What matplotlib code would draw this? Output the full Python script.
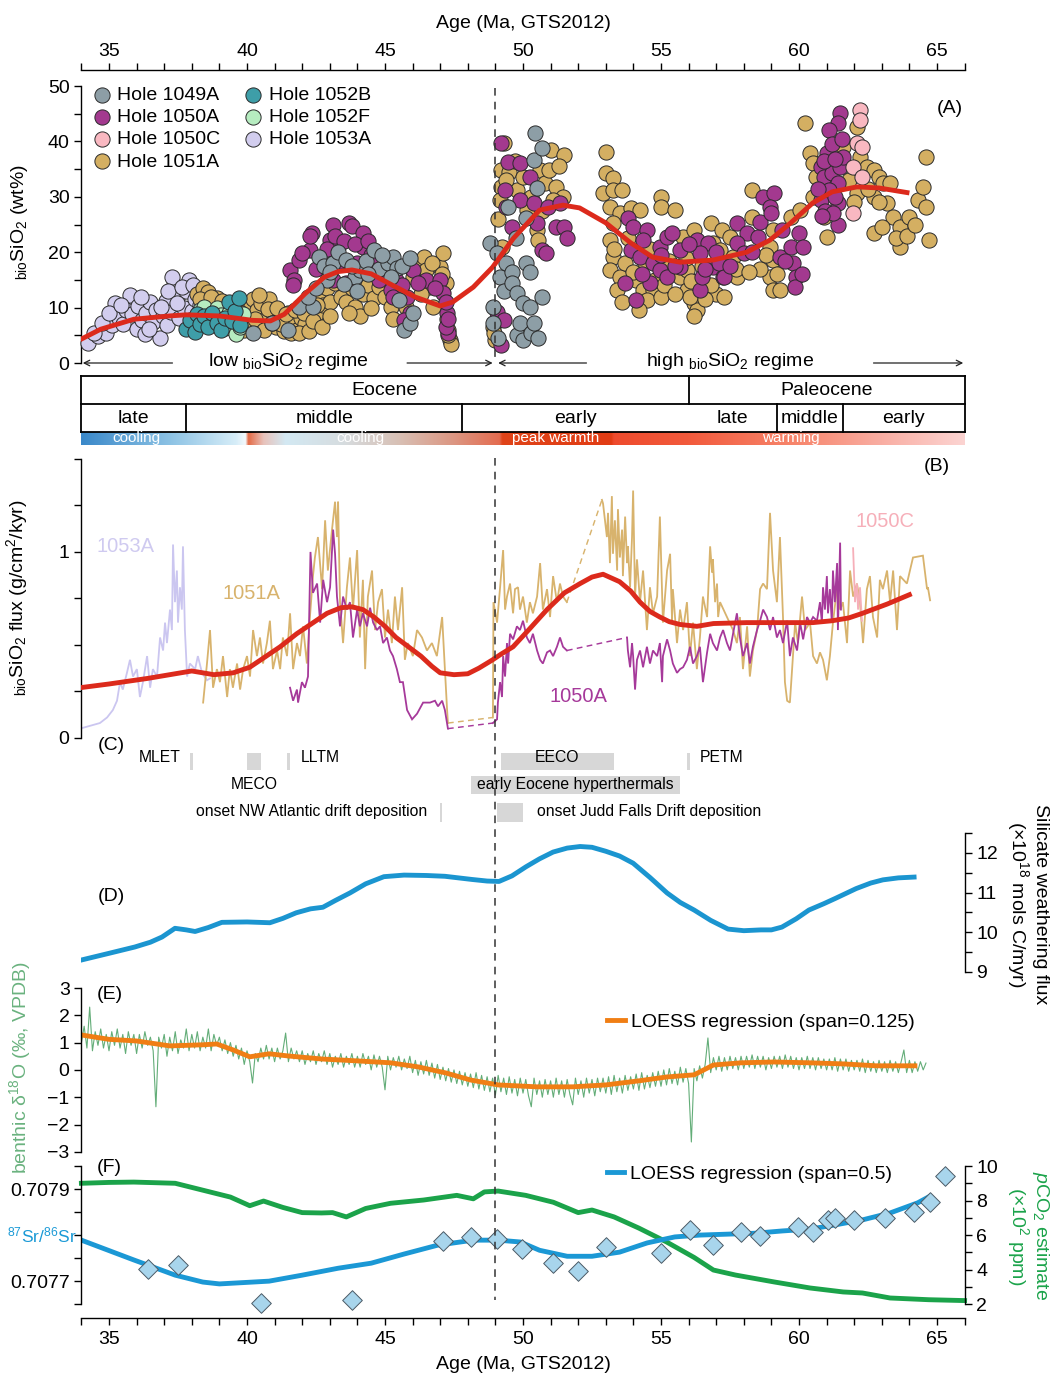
import numpy as np
import matplotlib.pyplot as plt
import matplotlib.transforms as mtransforms
from matplotlib.lines import Line2D
from matplotlib.patches import Rectangle
from matplotlib.colors import to_rgb
from matplotlib.ticker import MultipleLocator, FixedLocator

plt.rcParams['font.family'] = ['Liberation Sans', 'DejaVu Sans']
plt.rcParams['mathtext.fontset'] = 'custom'
plt.rcParams['mathtext.rm'] = 'Liberation Sans'
plt.rcParams['mathtext.it'] = 'Liberation Sans:italic'
plt.rcParams['mathtext.default'] = 'regular'
plt.rcParams['font.size'] = 14
plt.rcParams['xtick.labelsize'] = 14
plt.rcParams['ytick.labelsize'] = 14
plt.rcParams['axes.linewidth'] = 1.0
for k in ['xtick.major.width', 'ytick.major.width', 'xtick.minor.width', 'ytick.minor.width']:
    plt.rcParams[k] = 1.0
TICK = 5

# ---------------- (A) biogenic silica wt% ----------------
a1053A_age = [34.25, 34.6, 34.9, 35.1, 35.2, 35.35, 35.5, 35.6, 35.75, 35.85, 36.0, 36.05, 36.2, 36.3,
              36.35, 36.5, 36.6, 36.7, 36.85, 36.95, 37.05, 37.1, 37.25, 37.35, 37.3, 37.5, 37.55, 37.7,
              37.8, 37.9, 38.0, 38.1, 38.2, 38.3, 38.45, 38.55,
              34.45, 34.75, 35.0, 35.45, 36.15, 36.45, 36.9, 37.15, 37.45, 37.65, 38.05, 38.35]
a1053A_val = [3.6, 4.8, 5.5, 6.8, 10.8, 8.2, 7.0, 9.5, 12.3, 8.8, 6.2, 10.3, 7.8, 5.2,
              9.0, 11.0, 7.4, 9.6, 4.6, 8.5, 11.2, 6.8, 9.2, 14.0, 15.5, 12.3, 8.2, 10.0,
              13.0, 15.0, 9.3, 11.5, 7.5, 10.5, 12.2, 8.0,
              5.5, 7.2, 9.0, 10.5, 12.0, 6.2, 10.2, 13.0, 10.8, 13.8, 14.0, 8.8]
a1052B_age = [37.8, 37.95, 38.1, 38.2, 38.3, 38.45, 38.6, 38.75, 38.9, 39.05, 39.2, 39.35, 39.45, 39.55, 39.7, 39.75]
a1052B_val = [6.2, 7.8, 5.6, 8.8, 7.0, 8.5, 6.5, 9.0, 7.3, 6.0, 8.2, 11.0, 7.5, 9.3, 11.8, 6.8]
a1052F_age = [38.3, 38.45, 38.6, 38.75, 38.9, 39.05, 39.2, 39.35, 39.5, 39.6, 39.75, 39.85]
a1052F_val = [9.5, 10.2, 8.0, 7.0, 10.0, 8.6, 6.3, 9.0, 7.8, 5.2, 6.5, 8.8]
a1049A_age = [40.2, 40.9, 41.5, 41.9, 42.4, 42.6, 42.8, 43.1, 43.3, 43.6, 43.9, 44.1, 44.3, 44.6, 44.8,
              45.1, 45.3, 45.45, 45.5, 45.7, 45.9, 43.5, 44.0, 42.9, 46.0,
              42.2, 42.5, 43.0, 43.8, 44.4, 44.9, 45.2, 45.6, 45.9,
              48.8, 48.9, 48.9, 49.05, 49.1, 49.15, 49.3, 49.4, 49.45, 49.6, 49.6, 49.75, 49.8, 49.8,
              49.9, 50.0, 50.0, 50.1, 50.1, 50.25, 50.25, 50.3, 50.4, 50.4, 50.45, 50.5, 50.7, 50.7, 50.55]
a1049A_val = [5.4, 7.2, 6.0, 10.1, 10.1, 19.1, 17.5, 18.0, 20.0, 18.6, 15.5, 16.8, 18.5, 20.4, 17.0,
              18.0, 19.1, 17.2, 11.4, 6.0, 7.2, 14.2, 13.0, 15.0, 9.0,
              12.0, 13.5, 16.5, 17.5, 16.0, 19.5, 15.5, 17.5, 19.0,
              21.7, 10.1, 7.2, 19.9, 4.5, 15.5, 13.0, 18.0, 28.2, 16.4, 14.4, 22.5, 12.6, 5.0,
              7.2, 10.8, 4.2, 26.2, 18.0, 16.4, 10.1, 5.5, 7.2, 36.6, 41.5, 31.6, 38.8, 11.9, 4.5]
a1050A_age = [41.56, 41.7, 41.9, 42.3, 42.35, 42.3, 43.0, 43.1, 43.3, 43.7, 43.8, 44.2, 44.2, 44.3, 43.6,
              43.1, 44.8, 45.2, 45.4, 45.8, 45.9, 45.7, 46.0, 46.5, 47.0, 47.1, 47.25, 47.3, 47.2,
              44.5, 43.4, 42.7,
              41.65, 42.0, 42.5, 42.9, 43.2, 43.5, 43.9, 44.0, 44.4, 44.7, 45.0, 45.3, 45.6, 46.2,
              46.8, 47.2, 47.3,
              49.2, 49.45, 49.9, 50.25, 49.35, 49.9, 49.4, 50.4, 50.9, 51.35, 49.6, 50.5, 51.2, 51.5,
              51.6, 50.7, 50.85, 49.05, 49.3, 49.2,
              53.8, 54.0, 54.5, 54.35, 53.9, 54.25, 54.7, 54.95, 55.2, 55.4, 55.7, 54.95, 54.1, 55.2,
              55.7, 56.3, 56.7, 56.4, 56.9, 57.25, 57.1, 57.75, 58.1, 57.75, 58.0, 58.5, 58.7, 59.1,
              58.95, 59.4, 59.3, 59.7, 60.0, 60.15, 59.8, 59.9, 59.85, 56.4, 57.3, 56.5,
              54.6, 55.0, 55.5, 56.0, 56.6, 57.0, 57.5, 58.3, 58.6, 59.0, 59.5, 60.1, 53.7, 54.3,
              61.5, 61.4, 61.1, 61.0, 60.8, 60.9, 61.2, 61.5, 61.4, 61.0, 61.4, 60.8, 61.1, 61.4,
              61.6, 61.2, 60.95, 61.3, 60.7, 60.9, 61.3, 61.55, 61.25, 60.85]
a1050A_val = [16.8, 15.0, 18.6, 20.4, 23.4, 22.9, 22.2, 24.9, 21.0, 25.2, 24.7, 23.4, 21.0, 16.8, 14.4,
              15.0, 15.0, 13.2, 15.0, 11.9, 9.0, 7.8, 16.8, 15.0, 15.0, 12.6, 9.0, 5.4, 6.5,
              19.5, 18.5, 19.0,
              14.0, 19.8, 17.0, 20.5, 23.0, 22.0, 21.5, 18.0, 22.0, 18.5, 16.5, 12.0, 14.0, 14.5,
              13.5, 11.0, 8.0,
              39.7, 36.3, 36.1, 33.6, 31.2, 29.4, 28.2, 28.9, 28.2, 28.9, 24.5, 25.3, 24.5, 24.5,
              22.6, 20.4, 19.9, 9.2, 7.8, 3.3,
              26.2, 24.5, 24.0, 22.2, 20.4, 19.1, 18.0, 21.0, 22.7, 23.4, 20.4, 16.8, 11.4, 15.5,
              17.3, 22.2, 21.7, 19.9, 17.3, 15.5, 18.0, 25.3, 23.4, 21.7, 19.9, 22.7, 30.0, 30.7,
              28.2, 24.0, 19.1, 21.0, 23.4, 21.0, 18.0, 15.5, 13.7, 13.2, 15.5, 15.5,
              14.5, 19.5, 17.5, 21.5, 17.0, 20.0, 17.5, 20.0, 25.5, 27.0, 18.5, 16.0, 14.5, 16.0,
              45.1, 43.3, 42.1, 37.9, 35.4, 33.6, 34.3, 35.4, 32.5, 30.7, 28.9, 29.4, 31.2, 24.9,
              37.2, 39.5, 27.5, 30.0, 31.5, 36.5, 36.8, 40.5, 27.0, 26.5]
a1050C_age = [62.2, 62.2, 62.1, 62.3, 61.95, 62.3, 61.95]
a1050C_val = [45.7, 43.9, 39.7, 39.0, 35.4, 33.6, 27.1]
a1051A_age = [38.2, 38.4, 38.5, 38.6, 38.75, 38.9, 39.0, 39.2, 39.35, 39.5, 39.7, 39.9, 40.0, 40.2,
              40.35, 40.5, 40.65, 40.8, 40.95, 41.05, 41.2, 41.35, 41.5, 41.65, 41.8, 41.95, 42.1,
              42.2, 42.35, 42.5, 42.6, 42.75, 42.9, 43.0, 43.2, 43.4, 43.6, 43.8, 43.9, 44.1, 44.2,
              44.4, 44.6, 44.8, 45.0, 45.2, 45.4, 45.6, 45.75, 46.0, 46.15, 46.4, 46.5, 46.6, 46.75,
              46.9, 47.0, 47.1, 47.2, 47.25, 47.3, 47.35, 47.4, 47.3,
              38.3, 38.55, 38.7, 38.85, 39.1, 39.3, 39.6, 39.8, 40.1, 40.3, 40.45, 40.6, 40.75, 40.9,
              41.1, 41.25, 41.4, 41.6, 41.75, 41.9, 42.05, 42.25, 42.4, 42.55, 42.7,
              43.0, 43.7, 44.5, 45.3, 46.3, 46.7, 47.05,
              48.9, 49.0, 49.05, 48.95, 49.2, 49.2, 49.3, 49.5, 49.8, 50.15, 50.5, 50.55, 50.6, 50.8,
              50.95, 51.0, 51.2, 51.45, 51.5, 49.15, 49.1, 49.25,
              49.4, 49.7, 50.0, 50.3, 50.7, 51.1, 51.3,
              53.0, 53.0, 53.25, 52.9, 53.25, 53.6, 53.15, 53.5, 53.9, 54.25, 55.0, 55.0, 55.5, 53.25,
              53.15, 53.25, 53.15, 53.5, 53.4, 54.1, 54.35, 54.7, 54.5, 55.0, 55.7, 55.95, 56.2, 56.3,
              56.05, 55.95, 55.8, 56.2, 56.8, 57.2, 56.9, 57.5, 57.15, 57.75, 57.6, 58.3, 58.3, 58.95,
              59.05, 59.3, 59.05, 58.95, 59.05, 59.7, 60.05, 53.8, 54.6, 55.3, 56.5, 57.0, 58.6,
              53.3, 53.7, 54.0, 54.4, 54.8, 55.1, 55.5, 55.9, 56.1, 56.6, 56.8, 57.3, 57.7, 58.2,
              58.8, 59.2, 53.6, 54.2, 56.2,
              60.2, 60.4, 60.5, 60.5, 60.9, 61.0, 61.6, 62.1, 62.2, 62.45, 62.7, 62.9, 63.05, 63.3,
              62.1, 62.7, 63.2, 63.4, 63.65, 64.0, 62.7, 63.65, 64.3, 64.6, 64.5, 64.6, 64.7,
              60.6, 61.8, 62.0, 62.5, 62.9, 63.0, 63.5, 63.9, 64.2]
a1051A_val = [12.5, 13.5, 11.0, 12.8, 10.2, 11.8, 9.2, 10.5, 7.5, 6.5, 8.5, 6.0, 10.0, 11.5,
              9.5, 10.8, 8.0, 11.5, 9.0, 6.5, 8.0, 5.8, 9.0, 7.0, 6.0, 8.2, 7.0,
              9.8, 11.5, 8.8, 12.8, 10.5, 13.5, 11.0, 14.5, 12.0, 11.0, 13.5, 10.2, 8.5, 12.5,
              14.0, 11.8, 13.8, 12.0, 10.2, 14.5, 12.5, 10.2, 15.5, 17.3, 19.1, 16.8, 13.8, 10.1,
              14.0, 17.3, 19.9, 14.5, 8.0, 6.0, 4.2, 3.5, 5.0,
              11.5, 9.8, 12.0, 8.5, 11.2, 9.3, 10.3, 9.0, 7.2, 8.0, 12.3, 6.0, 9.8, 7.2,
              10.0, 7.0, 8.8, 5.5, 9.5, 5.5, 9.0, 5.8, 7.5, 10.5, 6.5,
              8.5, 9.0, 10.0, 8.0, 12.5, 18.0, 16.0,
              6.5, 4.2, 7.8, 5.5, 31.8, 34.8, 39.7, 34.5, 31.2, 27.6, 24.0, 22.2, 34.8, 32.5,
              34.8, 38.4, 31.8, 30.0, 37.5, 29.5, 26.0, 21.0,
              33.0, 36.5, 33.5, 30.0, 27.5, 29.5, 35.5,
              38.1, 34.3, 33.4, 30.7, 31.2, 31.2, 28.2, 27.1, 28.0, 27.6, 30.0, 28.2, 27.6, 25.3,
              22.2, 19.1, 16.8, 15.5, 13.2, 15.0, 13.2, 13.2, 11.4, 11.9, 15.5, 13.2, 10.8, 9.6,
              11.9, 16.8, 22.7, 24.0, 25.3, 24.0, 21.7, 22.7, 20.4, 15.5, 19.1, 26.4, 31.2, 15.5,
              13.2, 13.2, 18.6, 21.0, 24.0, 26.4, 27.6, 22.5, 20.5, 18.5, 17.5, 12.5, 17.0,
              20.5, 18.0, 16.5, 18.5, 15.0, 14.0, 12.5, 19.0, 14.8, 11.5, 14.0, 12.0, 17.0, 16.5,
              19.5, 16.0, 11.0, 9.5, 8.5,
              43.3, 37.9, 36.1, 30.0, 26.4, 22.7, 39.0, 42.6, 37.2, 35.4, 34.8, 33.6, 32.5, 32.5,
              30.7, 30.0, 28.9, 26.4, 24.5, 26.4, 23.4, 21.0, 29.4, 28.2, 31.8, 37.2, 22.2,
              33.5, 33.0, 29.0, 31.5, 29.0, 24.5, 22.5, 23.0, 25.0]
sio2_fit_age = [33.95, 34.7, 35.9, 37.2, 37.8, 39.0, 40.2, 40.85, 41.35, 41.7, 42.1, 42.8, 43.3, 43.8,
                44.5, 45.4, 46.1, 47.0, 47.45, 48.2, 48.9, 49.65, 50.6, 51.45, 52.05, 53.0, 53.9, 54.7,
                55.7, 56.9, 58.1, 58.95, 59.7, 60.5, 61.2, 62.1, 62.9, 64.0]
sio2_fit = [4.2, 6.1, 7.9, 8.5, 8.7, 8.5, 7.7, 7.6, 8.8, 10.5, 12.5, 15.5, 16.5, 16.8,
            16.1, 13.7, 11.9, 10.3, 11.0, 13.7, 17.3, 22.5, 27.6, 28.5, 28.0, 25.3, 21.7, 19.1,
            18.2, 18.6, 20.0, 22.2, 25.3, 28.9, 30.9, 31.8, 31.6, 30.7]

# ---------------- (B) biogenic silica flux ----------------
f1053A_age = [33.95, 34.67, 34.93, 35.14, 35.29, 35.40, 35.50, 35.65, 35.76, 35.87, 36.01, 36.12, 36.23,
              36.38, 36.49, 36.59, 36.74, 36.85, 36.96, 37.03, 37.10, 37.21, 37.28, 37.32, 37.39, 37.46,
              37.50, 37.57, 37.64, 37.68, 37.75, 37.83, 37.93, 38.12, 38.22, 38.37, 38.55, 38.66]
f1053A_val = [0.05, 0.08, 0.11, 0.15, 0.20, 0.30, 0.26, 0.35, 0.42, 0.33, 0.37, 0.22, 0.30,
              0.44, 0.27, 0.37, 0.33, 0.54, 0.47, 0.62, 0.51, 0.69, 0.58, 1.04, 0.73, 0.90,
              0.62, 0.81, 0.69, 1.03, 0.58, 0.33, 0.40, 0.37, 0.44, 0.35, 0.31, 0.32]
f1051A_age = [38.41, 38.55, 38.66, 38.77, 38.91, 39.02, 39.13, 39.28, 39.38, 39.49, 39.64, 39.75, 39.86,
              40.00, 40.11, 40.22, 40.36, 40.47, 40.58, 40.72, 40.83, 40.94, 41.09, 41.20, 41.30, 41.45,
              41.56, 41.67, 41.81, 41.92, 42.03, 42.17, 42.28, 42.39, 42.46, 42.57, 42.72, 42.83, 42.93,
              43.08, 43.19, 43.26, 43.30, 43.37, 43.48, 43.62, 43.73, 43.84, 43.99, 44.09, 44.20, 44.28,
              44.38, 44.53, 44.64, 44.75, 44.89, 45.00, 45.11, 45.25, 45.36, 45.47, 45.62, 45.72, 45.83,
              46.01, 46.16, 46.34, 46.52, 46.70, 46.88, 47.07, 47.17, 47.25, 47.28,
              48.91, 48.93, 49.06, 49.17, 49.28, 49.35, 49.42, 49.53, 49.64, 49.71, 49.82, 49.89, 50.00,
              50.14, 50.25, 50.36, 50.51, 50.62, 50.72, 50.87, 50.98, 51.09, 51.23, 51.34, 51.45, 51.59,
              52.86, 52.90, 53.04, 53.08, 53.15, 53.22, 53.26, 53.33, 53.41, 53.44, 53.51, 53.59, 53.62,
              53.70, 53.77, 53.80, 53.88, 53.95, 53.99, 54.06, 54.13, 54.24, 54.35, 54.49, 54.60, 54.71,
              54.86, 54.96, 55.07, 55.22, 55.33, 55.40, 55.43, 55.58, 55.69, 55.80, 55.94, 56.05, 56.16,
              56.30, 56.41, 56.52, 56.67, 56.78, 56.85, 56.88, 56.96, 57.03, 57.07, 57.14, 57.39, 57.61,
              57.75, 57.86, 57.97, 58.12, 58.22, 58.33, 58.48, 58.59, 58.70, 58.84, 58.95, 59.06, 59.20,
              59.31, 59.42, 59.49, 59.57, 59.67, 59.75, 59.86, 59.96, 60.11, 60.22, 60.40, 60.51, 60.65,
              60.76, 60.87, 61.01, 61.12, 61.23, 61.38, 61.49, 61.59, 61.74, 61.85, 61.96, 62.10, 62.21,
              62.32, 62.46, 62.57, 62.68, 62.83, 62.93, 63.04, 63.19, 63.30, 63.41, 63.55, 63.66, 63.91,
              64.13, 64.49, 64.64, 64.67, 64.75]
f1051A_val = [0.19, 0.40, 0.58, 0.27, 0.37, 0.30, 0.44, 0.22, 0.37, 0.27, 0.40, 0.26, 0.37,
              0.44, 0.33, 0.58, 0.44, 0.54, 0.40, 0.51, 0.63, 0.37, 0.47, 0.37, 0.54, 0.44,
              0.67, 0.37, 0.51, 0.44, 0.60, 0.40, 0.65, 0.87, 0.97, 1.08, 0.80, 1.17, 0.90,
              1.12, 1.27, 1.08, 1.27, 0.73, 0.51, 0.81, 0.97, 0.69, 1.01, 0.54, 0.85, 0.37,
              0.76, 0.90, 0.58, 0.73, 0.80, 0.54, 0.69, 0.51, 0.76, 0.58, 0.81, 0.42, 0.51,
              0.44, 0.58, 0.54, 0.47, 0.51, 0.44, 0.65, 0.37, 0.15, 0.08,
              0.11, 0.73, 0.62, 0.81, 1.01, 0.69, 0.76, 0.83, 0.67, 0.80, 0.81, 0.69, 0.76,
              0.62, 0.73, 0.67, 0.76, 0.94, 0.69, 0.80, 0.65, 0.87, 0.73, 0.83, 0.76, 0.73,
              1.28, 1.26, 1.08, 1.21, 0.94, 1.30, 0.99, 1.17, 0.90, 1.23, 0.97, 1.12, 0.87,
              1.19, 0.94, 1.03, 0.81, 1.08, 1.33, 0.76, 0.96, 0.73, 0.90, 0.58, 0.81, 0.67,
              0.76, 1.19, 0.62, 0.90, 0.99, 0.63, 0.80, 0.51, 0.69, 0.58, 0.73, 0.44, 0.62,
              0.37, 0.54, 0.76, 0.65, 1.03, 0.89, 0.96, 0.73, 0.83, 0.65, 0.73, 0.65, 0.58,
              0.51, 0.65, 0.37, 0.60, 0.33, 0.47, 0.58, 0.80, 0.83, 0.80, 1.21, 0.90, 0.73,
              1.08, 0.65, 0.30, 0.20, 0.19, 0.37, 0.62, 0.51, 0.76, 0.58, 0.62, 0.44, 0.40,
              0.46, 0.42, 0.31, 0.44, 0.62, 0.81, 0.69, 0.73, 0.51, 0.90, 0.76, 0.83, 0.73,
              0.51, 0.80, 0.87, 0.65, 0.54, 0.85, 0.80, 0.90, 0.73, 0.90, 0.58, 0.87, 0.83,
              0.97, 0.98, 0.80, 0.81, 0.74]
f1050A_age = [41.56, 41.67, 41.81, 41.85, 41.99, 42.10, 42.21, 42.30, 42.39, 42.54, 42.65, 42.76, 42.90,
              43.01, 43.12, 43.19, 43.26, 43.37, 43.48, 43.62, 43.73, 43.84, 43.99, 44.09, 44.20, 44.35,
              44.46, 44.57, 44.71, 44.82, 44.93, 45.07, 45.18, 45.29, 45.43, 45.54, 45.65, 45.80, 45.98,
              46.16, 46.38, 46.63, 46.81, 46.92, 47.07, 47.17, 47.28,
              48.91, 49.06, 49.09, 49.17, 49.24, 49.28, 49.35, 49.42, 49.46, 49.53, 49.64, 49.78, 49.89,
              50.00, 50.14, 50.25, 50.36, 50.51, 50.62, 50.72, 50.87, 50.98, 51.09, 51.23, 51.34, 51.45,
              51.59,
              53.77, 53.80, 53.88, 53.95, 53.99, 54.06, 54.13, 54.24, 54.35, 54.49, 54.60, 54.71, 54.86,
              54.96, 55.04, 55.07, 55.22, 55.33, 55.43, 55.58, 55.69, 55.80, 55.94, 56.05, 56.16, 56.30,
              56.41, 56.52, 56.67, 56.78, 56.88, 57.03, 57.14, 57.25, 57.39, 57.50, 57.61, 57.75, 57.86,
              57.97, 58.12, 58.22, 58.33, 58.48, 58.59, 58.70, 58.84, 58.95, 59.06, 59.20, 59.31, 59.42,
              59.57, 59.67, 59.78, 59.93, 60.04, 60.15, 60.29, 60.40, 60.51, 60.65, 60.76, 60.83, 60.87,
              60.94, 61.01, 61.05, 61.12, 61.19, 61.23, 61.30, 61.38, 61.41, 61.49, 61.52]
f1050A_val = [0.27, 0.20, 0.26, 0.19, 0.30, 0.27, 0.33, 1.00, 0.78, 0.83, 0.62, 0.85, 0.73,
              0.81, 1.12, 0.99, 0.76, 0.60, 0.76, 0.69, 0.73, 0.54, 0.69, 0.60, 0.67, 0.60,
              0.70, 0.62, 0.58, 0.60, 0.51, 0.54, 0.47, 0.44, 0.37, 0.30, 0.30, 0.15, 0.10,
              0.13, 0.19, 0.19, 0.20, 0.17, 0.20, 0.15, 0.05,
              0.08, 0.10, 0.19, 0.30, 0.22, 0.44, 0.33, 0.51, 0.40, 0.56, 0.53, 0.60, 0.58,
              0.63, 0.54, 0.51, 0.56, 0.47, 0.42, 0.40, 0.46, 0.47, 0.44, 0.49, 0.54, 0.49,
              0.47,
              0.54, 0.47, 0.38, 0.51, 0.44, 0.26, 0.42, 0.47, 0.38, 0.49, 0.40, 0.47, 0.44,
              0.51, 0.30, 0.44, 0.53, 0.47, 0.40, 0.35, 0.37, 0.38, 0.42, 0.49, 0.40, 0.44,
              0.49, 0.30, 0.46, 0.56, 0.51, 0.47, 0.54, 0.58, 0.51, 0.47, 0.56, 0.67, 0.54,
              0.44, 0.51, 0.40, 0.49, 0.58, 0.63, 0.69, 0.65, 0.58, 0.65, 0.54, 0.58, 0.51,
              0.63, 0.44, 0.54, 0.47, 0.62, 0.53, 0.65, 0.62, 0.65, 0.63, 0.73, 0.62, 0.81,
              0.69, 0.87, 0.67, 0.80, 0.62, 0.90, 0.73, 0.94, 0.58, 1.05, 0.69]
f1050C_age = [61.96, 62.03, 62.10, 62.14, 62.21, 62.28]
f1050C_val = [1.02, 0.73, 0.83, 0.69, 0.81, 0.63]
flux_fit_age = [33.95, 35.0, 36.4, 38.0, 38.8, 39.5, 40.1, 40.6, 41.2, 41.8, 42.4, 42.9, 43.4, 43.8,
                44.2, 44.6, 45.0, 45.4, 45.85, 46.3, 46.7, 47.0, 47.5, 48.0, 48.4, 48.9, 49.2, 49.64,
                50.2, 50.87, 51.5, 52.07, 52.5, 52.9, 53.5, 53.9, 54.24, 54.6, 54.96, 55.3, 55.69, 56.3,
                56.9, 58.1, 59.3, 60.5, 61.2, 61.8, 62.3, 63.2, 64.0]
flux_fit = [0.27, 0.29, 0.32, 0.36, 0.34, 0.35, 0.38, 0.43, 0.49, 0.56, 0.62, 0.67, 0.70, 0.705,
            0.69, 0.65, 0.60, 0.54, 0.49, 0.44, 0.385, 0.35, 0.34, 0.345, 0.375, 0.42, 0.45, 0.49,
            0.58, 0.69, 0.78, 0.83, 0.865, 0.88, 0.84, 0.79, 0.73, 0.68, 0.65, 0.625, 0.61, 0.60,
            0.615, 0.62, 0.62, 0.62, 0.63, 0.645, 0.67, 0.72, 0.77]

# ---------------- (C) events ----------------
event_names = ['MLET', 'MECO', 'LLTM', 'EECO', 'PETM', 'early Eocene hyperthermals',
               'onset NW Atlantic drift deposition', 'onset Judd Falls Drift deposition']
event_start = [37.95, 40.0, 41.45, 49.2, 55.95, 48.1, 46.98, 49.05]
event_end = [38.05, 40.5, 41.55, 53.3, 56.05, 55.7, 47.08, 50.0]

# ---------------- (D) silicate weathering flux ----------------
weath_age = [33.99, 35.0, 35.94, 36.5, 36.92, 37.39, 37.8, 38.12, 38.6, 39.09, 40.0, 40.83, 41.3, 41.78,
             42.3, 42.75, 43.2, 43.73, 44.3, 44.96, 45.69, 46.5, 47.17, 48.15, 48.7, 49.13, 49.6, 50.11,
             50.6, 51.09, 51.6, 52.07, 52.5, 53.0, 53.5, 53.99, 54.6, 55.22, 55.7, 56.2, 56.8, 57.43,
             58.0, 58.62, 59.0, 59.38, 59.9, 60.36, 60.9, 61.34, 62.07, 62.6, 63.04, 63.6, 64.17]
weath_val = [9.30, 9.47, 9.63, 9.75, 9.88, 10.10, 10.06, 10.02, 10.12, 10.25, 10.26, 10.24, 10.35, 10.49,
             10.59, 10.63, 10.80, 10.99, 11.22, 11.40, 11.44, 11.43, 11.41, 11.33, 11.29, 11.28, 11.42, 11.65,
             11.85, 12.02, 12.12, 12.16, 12.14, 12.04, 11.92, 11.74, 11.38, 10.99, 10.75, 10.56, 10.30, 10.08,
             10.04, 10.06, 10.06, 10.13, 10.34, 10.56, 10.72, 10.86, 11.10, 11.24, 11.32, 11.37, 11.39]

# ---------------- (E) benthic d18O ----------------
d18o_age = [34.0, 34.1, 34.2, 34.3, 34.4, 34.5, 34.6, 34.7, 34.8, 34.9,
            35.0, 35.1, 35.2, 35.3, 35.4, 35.5, 35.6, 35.7, 35.8, 35.9,
            36.0, 36.1, 36.2, 36.3, 36.4, 36.5, 36.6, 36.7, 36.8, 36.9,
            37.0, 37.1, 37.2, 37.3, 37.4, 37.5, 37.6, 37.7, 37.8, 37.9,
            38.0, 38.1, 38.2, 38.3, 38.4, 38.5, 38.6, 38.7, 38.8, 38.9,
            39.0, 39.1, 39.2, 39.3, 39.4, 39.5, 39.6, 39.7, 39.8, 39.9,
            40.0, 40.1, 40.2, 40.3, 40.4, 40.5, 40.6, 40.7, 40.8, 40.9,
            41.0, 41.1, 41.2, 41.3, 41.4, 41.5, 41.6, 41.7, 41.8, 41.9,
            42.0, 42.1, 42.2, 42.3, 42.4, 42.5, 42.6, 42.7, 42.8, 42.9,
            43.0, 43.1, 43.2, 43.3, 43.4, 43.5, 43.6, 43.7, 43.8, 43.9,
            44.0, 44.1, 44.2, 44.3, 44.4, 44.5, 44.6, 44.7, 44.8, 44.9,
            45.0, 45.1, 45.2, 45.3, 45.4, 45.5, 45.6, 45.7, 45.8, 45.9,
            46.0, 46.1, 46.2, 46.3, 46.4, 46.5, 46.6, 46.7, 46.8, 46.9,
            47.0, 47.1, 47.2, 47.3, 47.4, 47.5, 47.6, 47.7, 47.8, 47.9,
            48.0, 48.1, 48.2, 48.3, 48.4, 48.5, 48.6, 48.7, 48.8, 48.9,
            49.0, 49.1, 49.2, 49.3, 49.4, 49.5, 49.6, 49.7, 49.8, 49.9,
            50.0, 50.1, 50.2, 50.3, 50.4, 50.5, 50.6, 50.7, 50.8, 50.9,
            51.0, 51.1, 51.2, 51.3, 51.4, 51.5, 51.6, 51.7, 51.8, 51.9,
            52.0, 52.1, 52.2, 52.3, 52.4, 52.5, 52.6, 52.7, 52.8, 52.9,
            53.0, 53.1, 53.2, 53.3, 53.4, 53.5, 53.6, 53.7, 53.8, 53.9,
            54.0, 54.1, 54.2, 54.3, 54.4, 54.5, 54.6, 54.7, 54.8, 54.9,
            55.0, 55.1, 55.2, 55.3, 55.4, 55.5, 55.6, 55.7, 55.8, 55.9,
            56.0, 56.1, 56.2, 56.3, 56.4, 56.5, 56.6, 56.7, 56.8, 56.9,
            57.0, 57.1, 57.2, 57.3, 57.4, 57.5, 57.6, 57.7, 57.8, 57.9,
            58.0, 58.1, 58.2, 58.3, 58.4, 58.5, 58.6, 58.7, 58.8, 58.9,
            59.0, 59.1, 59.2, 59.3, 59.4, 59.5, 59.6, 59.7, 59.8, 59.9,
            60.0, 60.1, 60.2, 60.3, 60.4, 60.5, 60.6, 60.7, 60.8, 60.9,
            61.0, 61.1, 61.2, 61.3, 61.4, 61.5, 61.6, 61.7, 61.8, 61.9,
            62.0, 62.1, 62.2, 62.3, 62.4, 62.5, 62.6, 62.7, 62.8, 62.9,
            63.0, 63.1, 63.2, 63.3, 63.4, 63.5, 63.6, 63.7, 63.8, 63.9,
            64.0, 64.1, 64.2, 64.3, 64.4, 64.5, 64.6]
d18o_val = [1.0, 1.6, 0.8, 2.3, 0.7, 1.4, 0.9, 1.5, 0.8, 1.3,
            0.7, 1.4, 0.9, 1.5, 0.8, 1.3, 0.6, 1.4, 0.9, 1.3,
            0.6, 1.3, 0.8, 1.4, 0.9, 1.2, 0.7, -1.35, 1.2, 0.8,
            1.3, 0.5, 1.2, 0.7, 1.4, 0.6, 1.1, 0.8, 1.5, 0.7,
            1.3, 0.8, 1.4, 0.7, 1.2, 0.8, 1.5, 0.7, 1.3, 0.9,
            1.2, 0.7, 1.1, 0.6, 1.0, 0.5, 0.9, 0.4, 0.8, 0.2,
            0.7, 0.3, -0.48, 0.6, 0.3, 0.8, 0.4, 0.9, 0.4, 0.8,
            0.3, 0.8, 0.4, 0.7, 1.35, 0.3, 0.8, 0.4, 0.7, 0.3,
            0.7, 0.2, 0.6, 0.3, 0.7, 0.2, 0.6, 0.3, 0.7, 0.2,
            0.6, 0.1, 0.5, 0.2, 0.6, 0.1, 0.5, 0.2, 0.6, 0.1,
            0.5, 0.1, 0.6, 0.2, 0.5, 0.0, 0.55, 0.1, 0.5, 0.1,
            -0.73, 0.5, 0.0, 0.45, 0.1, 0.5, 0.0, 0.4, 0.05, 0.5,
            -0.1, 0.35, -0.2, 0.3, -0.15, 0.35, -0.2, 0.25, -0.3, 0.2,
            -0.35, 0.1, -0.4, 0.05, -0.45, 0.0, -0.5, -0.05, -0.55, -0.1,
            -0.6, -0.15, -0.65, -0.1, -0.7, -0.2, -0.75, -0.25, -0.8, -0.3,
            -0.92, -0.2, -0.8, -0.3, -0.9, -0.25, -0.85, -0.35, -0.95, -0.3,
            -0.85, -0.35, -0.95, -1.35, -0.3, -0.9, -0.4, -1.0, -0.35, -0.9,
            -0.4, -1.0, -0.3, -0.9, -0.4, -1.0, -0.35, -0.9, -1.28, -0.3,
            -0.9, -0.4, -1.0, -0.3, -0.85, -0.35, -0.95, -0.3, -0.8, -0.3,
            -0.85, -0.25, -0.9, -0.2, -0.8, -0.3, -0.85, -0.2, -0.75, -0.25,
            -0.7, -0.15, -0.75, -0.1, -0.7, -0.2, -0.65, -0.1, -0.6, -0.05,
            -0.6, 0.0, -0.55, 0.05, -0.5, -0.05, -0.55, 0.1, -0.45, 0.05,
            -0.5, -2.64, 0.05, -0.4, 0.15, -0.3, 0.2, 1.17, -0.1, 0.45,
            0.0, 0.5, -0.05, 0.45, 0.0, 0.5, 0.05, 0.45, 0.0, 0.5,
            0.05, 0.5, 0.1, 0.55, 0.05, 0.5, 0.1, 0.5, 0.0, 0.45,
            0.05, 0.5, 0.1, 0.5, 0.05, 0.55, 0.1, 0.5, 0.05, 0.45,
            0.0, 0.45, 0.05, 0.5, 0.05, 0.45, 0.0, 0.45, 0.05, 0.4,
            0.0, 0.4, 0.0, 0.45, -0.05, 0.4, 0.0, 0.4, -0.05, 0.35,
            0.0, 0.35, -0.05, 0.4, -0.1, 0.35, -0.05, 0.3, -0.1, 0.35,
            -0.05, 0.3, -0.1, 0.35, -0.05, 0.3, -0.1, 0.3, 0.73, -0.1,
            0.35, -0.1, 0.3, -0.05, 0.3, 0.0, 0.25]
d18o_fit_age = [34.0, 35.0, 36.0, 37.2, 38.4, 38.9, 39.5, 40.1, 40.8, 41.5, 42.7, 44.0, 45.2, 46.2,
                47.2, 48.1, 49.1, 50.5, 51.8, 53.0, 54.2, 55.2, 56.2, 56.9, 57.9, 59.1, 60.4, 61.6,
                62.8, 64.2]
d18o_fit = [1.28, 1.12, 1.06, 0.88, 0.92, 0.95, 0.73, 0.48, 0.59, 0.51, 0.40, 0.33, 0.26, 0.11,
            -0.11, -0.37, -0.55, -0.62, -0.62, -0.55, -0.40, -0.26, -0.18, 0.18, 0.26, 0.29, 0.26, 0.22,
            0.15, 0.15]

# ---------------- (F) Sr isotopes and pCO2 ----------------
sr_age = [36.4, 37.5, 40.5, 43.8, 47.1, 48.1, 49.05, 49.95, 51.1, 52.0, 53.0, 55.0, 56.05, 56.9,
          57.9, 58.6, 59.95, 60.5, 61.05, 61.3, 62.0, 63.1, 64.15, 64.75, 65.3]
sr_val = [0.707726, 0.707735, 0.707652, 0.707658, 0.707787, 0.707796, 0.707791, 0.70777, 0.707739,
          0.707722, 0.707774, 0.707761, 0.707811, 0.707778, 0.707807, 0.707798, 0.707817, 0.707807,
          0.707833, 0.707837, 0.707833, 0.707837, 0.70785, 0.707872, 0.707928]
sr_fit_age = [34.0, 35.9, 37.4, 38.4, 39.0, 39.6, 40.8, 42.0, 43.3, 44.5, 45.7, 46.9, 48.2, 49.1, 49.9,
              50.6, 51.6, 52.5, 53.5, 54.5, 55.5, 56.4, 57.4, 58.4, 59.4, 60.4, 61.3, 62.3, 63.3, 64.3,
              64.7]
sr_fit = [0.707789, 0.707746, 0.707713, 0.707698, 0.707694, 0.707696, 0.7077, 0.707713, 0.707728,
          0.707739, 0.707759, 0.707778, 0.707789, 0.707789, 0.707785, 0.707767, 0.707754, 0.707754,
          0.707763, 0.707783, 0.707796, 0.7078, 0.707802, 0.707804, 0.707809, 0.707813, 0.707822,
          0.707833, 0.707848, 0.70787, 0.707883]
pco2_age = [34.0, 35.0, 35.9, 37.4, 38.4, 39.4, 40.1, 40.6, 41.3, 42.0, 42.7, 43.1, 43.6, 44.3, 45.2,
            46.4, 47.6, 48.2, 48.6, 49.1, 50.1, 51.1, 52.0, 52.5, 53.3, 54.2, 55.2, 56.2, 56.9, 57.7,
            59.1, 60.4, 61.6, 62.3, 63.3, 64.7, 66.0]
pco2_val = [9.0, 9.05, 9.07, 9.0, 8.6, 8.2, 7.7, 7.97, 7.6, 7.3, 7.28, 7.3, 7.05, 7.54, 7.84,
            8.03, 8.3, 8.1, 8.5, 8.55, 8.3, 7.9, 7.3, 7.45, 7.05, 6.4, 5.6, 4.7, 3.97, 3.68,
            3.28, 2.93, 2.7, 2.64, 2.35, 2.25, 2.2]

# ---------------- figure ----------------
W, H = 1051, 1377
X0, X1 = 81.4, 964.6
fig = plt.figure(figsize=(W / 100, H / 100), dpi=100)


def add_ax(top, bottom):
    return fig.add_axes([X0 / W, 1 - bottom / H, (X1 - X0) / W, (bottom - top) / H])


def only_spines(ax, keep):
    for s in ['left', 'right', 'top', 'bottom']:
        ax.spines[s].set_visible(s in keep)


def plot_gapped(ax, x, y, color, lw):
    x = np.asarray(x)
    y = np.asarray(y)
    brk = np.where(np.diff(x) > 1.0)[0]
    starts = np.r_[0, brk + 1]
    ends = np.r_[brk + 1, len(x)]
    for s, e in zip(starts, ends):
        ax.plot(x[s:e], y[s:e], color=color, lw=lw, solid_joinstyle='miter')
    for b in brk:
        ax.plot(x[b:b + 2], y[b:b + 2], color=color, lw=lw * 0.8, ls=(0, (4, 3)))


# ---- (A)
axA = add_ax(70, 363)
axA.set_xlim(34, 66)
axA.set_ylim(0, 52.9)
only_spines(axA, ['left', 'top'])
axA.spines['left'].set_bounds(0, 50)
axA.xaxis.tick_top()
axA.xaxis.set_label_position('top')
axA.set_xticks(range(35, 66, 5))
axA.xaxis.set_minor_locator(MultipleLocator(1))
axA.tick_params(axis='x', which='both', length=TICK, pad=2)
axA.set_xlabel('Age (Ma, GTS2012)', fontsize=14, labelpad=11)
axA.set_yticks(range(0, 51, 10))
axA.yaxis.set_minor_locator(MultipleLocator(5))
axA.tick_params(axis='y', which='both', length=TICK)
axA.set_ylabel(r'$_{bio}$SiO$_2$ (wt%)', fontsize=14)
axA.yaxis.set_label_coords(-0.058, 0.48)

holes = {
    '1053A': (a1053A_age, a1053A_val, '#d2cdee'),
    '1051A': (a1051A_age, a1051A_val, '#d4af62'),
    '1052F': (a1052F_age, a1052F_val, '#b6ecc0'),
    '1052B': (a1052B_age, a1052B_val, '#3e9ea8'),
    '1050A': (a1050A_age, a1050A_val, '#a3398f'),
    '1049A': (a1049A_age, a1049A_val, '#8d9ea6'),
    '1050C': (a1050C_age, a1050C_val, '#f9b8c1'),
}
handles = {}
for z, (name, (ag, vl, col)) in enumerate(holes.items()):
    handles[name] = axA.scatter(ag, vl, s=120, c=col, edgecolors='#2a2a2a', linewidths=0.7,
                                zorder=3 + z, label='Hole ' + name, clip_on=False)
axA.plot(sio2_fit_age, sio2_fit, color='#dc2a1c', lw=3.5, zorder=20, solid_capstyle='butt')
order = ['1049A', '1050A', '1050C', '1051A', '1052B', '1052F', '1053A']
axA.legend(handles=[handles[k] for k in order], ncol=2, loc='upper left',
           bbox_to_anchor=(0.012, 0.943), frameon=False, fontsize=14, handlelength=1.0,
           handletextpad=0.3, columnspacing=1.2, labelspacing=0.23, borderpad=0, borderaxespad=0,
           scatterpoints=1)
axA.text(65.95, 46.0, '(A)', ha='right', va='center', fontsize=14)

arrow_kw = dict(arrowstyle='->', lw=0.9, color='#222222', shrinkA=0, shrinkB=0, mutation_scale=10)
for tail, head in [(37.3, 34.05), (45.8, 48.9), (52.3, 49.1), (62.7, 65.95)]:
    axA.annotate('', xy=(head, 0), xytext=(tail, 0), arrowprops=arrow_kw, annotation_clip=False)
axA.text(41.5, 0.3, r'low $_{bio}$SiO$_2$ regime', ha='center', va='center', fontsize=14)
axA.text(57.5, 0.3, r'high $_{bio}$SiO$_2$ regime', ha='center', va='center', fontsize=14)

# ---- timescale table
axT = add_ax(376, 445)
stop_age = [34.0, 37.2, 39.6, 39.95, 40.05, 40.6, 41.4, 43.5, 45.5, 47.5, 49.15, 49.25, 53.2, 53.3,
            56.0, 60.0, 63.0, 66.0]
stop_col = ['#3a88c9', '#8cc2e4', '#d6edf8', '#f4f9fc', '#e46a45', '#e8c2bb', '#d3e9f3', '#d6dcdf',
            '#d8c0b5', '#dc9682', '#e46c50', '#df4419', '#e23c14', '#ee4b2d', '#f25a3c', '#f7876e',
            '#f9aea3', '#fcd4d2']
xs = np.linspace(34, 66, 1200)
rgb = np.array([np.interp(xs, stop_age, [to_rgb(c)[i] for c in stop_col]) for i in range(3)]).T
axT.imshow(rgb[None, :, :], extent=(34, 66, 69, 56), aspect='auto', interpolation='bilinear')
axT.set_xlim(34, 66)
axT.set_ylim(69, 0)
axT.axis('off')
tbl = dict(color='black', lw=1.3, clip_on=False, solid_capstyle='projecting')
for yy in (0, 28, 56):
    axT.plot([34, 66], [yy, yy], **tbl)
for xx in (34, 66):
    axT.plot([xx, xx], [0, 56], **tbl)
axT.plot([56.0, 56.0], [0, 28], **tbl)
for xx in (37.8, 47.8, 59.2, 61.6):
    axT.plot([xx, xx], [28, 56], **tbl)
for lab, a, b in [('Eocene', 34, 56), ('Paleocene', 56, 66)]:
    axT.text((a + b) / 2, 14.5, lab, ha='center', va='center', fontsize=14)
for lab, a, b in [('late', 34, 37.8), ('middle', 37.8, 47.8), ('early', 47.8, 56),
                  ('late', 56, 59.2), ('middle', 59.2, 61.6), ('early', 61.6, 66)]:
    axT.text((a + b) / 2, 42.5, lab, ha='center', va='center', fontsize=14)
for lab, xc in [('cooling', 36.0), ('cooling', 44.1), ('peak warmth', 51.2), ('warming', 59.7)]:
    axT.text(xc, 62.3, lab, ha='center', va='center', fontsize=11, color='white')

# ---- (B) and (C)
axB = add_ax(458, 830)
axB.set_xlim(34, 66)
axB.set_ylim(-0.495, 1.505)
only_spines(axB, ['left'])
axB.spines['left'].set_bounds(0, 1.5)
axB.set_xticks([])
axB.set_yticks(np.arange(0, 1.51, 0.25))
axB.set_yticklabels(['0', '', '', '', '1', '', ''])
axB.tick_params(axis='y', length=TICK)
axB.set_ylabel(r'$_{bio}$SiO$_2$ flux (g/cm$^2$/kyr)', fontsize=14)
axB.yaxis.set_label_coords(-0.058, 0.624)

plot_gapped(axB, f1053A_age, f1053A_val, '#cbc6f0', 1.3)
plot_gapped(axB, f1051A_age, f1051A_val, '#d8b36d', 1.3)
plot_gapped(axB, f1050A_age, f1050A_val, '#a6399a', 1.3)
plot_gapped(axB, f1050C_age, f1050C_val, '#f6afb9', 1.3)
axB.plot(flux_fit_age, flux_fit, color='#dc2a1c', lw=3.5, zorder=10)
axB.text(34.55, 1.03, '1053A', color='#cfcaf0', fontsize=14.5, va='center')
axB.text(39.1, 0.775, '1051A', color='#d8b36d', fontsize=14.5, va='center')
axB.text(50.95, 0.225, '1050A', color='#a6399a', fontsize=14.5, va='center')
axB.text(62.05, 1.165, '1050C', color='#f6afb9', fontsize=14.5, va='center')
axB.text(65.0, 1.457, '(B)', ha='center', va='center', fontsize=14)

gray = '#d7d7d7'
cfs = 11.3
axB.text(34.6, -0.04, '(C)', ha='left', va='center', fontsize=14)
row1 = (-0.172, -0.083)
for i in (0, 1, 2, 3, 4):
    axB.add_patch(Rectangle((event_start[i], row1[0]), event_end[i] - event_start[i],
                            row1[1] - row1[0], color=gray, clip_on=False, lw=0))
axB.text(event_start[0] - 0.35, -0.1075, event_names[0], ha='right', va='center', fontsize=cfs)
axB.text((event_start[1] + event_end[1]) / 2, -0.253, event_names[1], ha='center', va='center', fontsize=cfs)
axB.text(event_end[2] + 0.4, -0.1075, event_names[2], ha='left', va='center', fontsize=cfs)
axB.text((event_start[3] + event_end[3]) / 2, -0.1075, event_names[3], ha='center', va='center', fontsize=cfs)
axB.text(event_end[4] + 0.35, -0.1075, event_names[4], ha='left', va='center', fontsize=cfs)
axB.add_patch(Rectangle((event_start[5], -0.302), event_end[5] - event_start[5], 0.098,
                        color=gray, clip_on=False, lw=0))
axB.text((event_start[5] + event_end[5]) / 2, -0.253, event_names[5], ha='center', va='center', fontsize=cfs)
for i in (6, 7):
    axB.add_patch(Rectangle((event_start[i], -0.45), event_end[i] - event_start[i], 0.098,
                            color=gray, clip_on=False, lw=0))
axB.text(event_start[6] - 0.45, -0.398, event_names[6], ha='right', va='center', fontsize=cfs)
axB.text(event_end[7] + 0.5, -0.398, event_names[7], ha='left', va='center', fontsize=cfs)

# ---- (D)
axD = add_ax(833, 975)
axD.set_xlim(34, 66)
axD.set_ylim(8.924, 12.5)
only_spines(axD, ['right'])
axD.spines['right'].set_bounds(9, 12.5)
axD.set_xticks([])
axD.yaxis.tick_right()
axD.set_yticks([9, 10, 11, 12])
axD.yaxis.set_minor_locator(FixedLocator([9.5, 10.5, 11.5, 12.5]))
axD.tick_params(axis='y', which='both', length=TICK)
axD.plot(weath_age, weath_val, color='#1b95d0', lw=3.5, solid_joinstyle='round')
axD.text(34.6, 10.9, '(D)', ha='left', va='center', fontsize=14)
fig.text(1040 / W, 1 - 904 / H, 'Silicate weathering flux', rotation=270, ha='center', va='center',
         fontsize=14)
fig.text(1018 / W, 1 - 904 / H, r'($\times$10$^{18}$ mols C/myr)', rotation=270, ha='center',
         va='center', fontsize=14)

# ---- (E)
axE = add_ax(985, 1160)
axE.set_xlim(34, 66)
axE.set_ylim(-3.30, 3.11)
only_spines(axE, ['left'])
axE.spines['left'].set_bounds(-3, 3)
axE.set_xticks([])
axE.set_yticks(range(-3, 4))
axE.tick_params(axis='y', length=TICK)
axE.plot(d18o_age, d18o_val, color='#63ad78', lw=0.8)
axE.plot(d18o_fit_age, d18o_fit, color='#f07e14', lw=3.5, label='LOESS regression (span=0.125)')
axE.legend(loc='center right', bbox_to_anchor=(0.943, 0.79), frameon=False, fontsize=14,
           handlelength=0.9, handletextpad=0.3, borderpad=0, borderaxespad=0)
axE.text(34.55, 2.75, '(E)', ha='left', va='center', fontsize=14)
fig.text(20 / W, 1 - 1068 / H, r'benthic δ$^{18}$O (‰, VPDB)', rotation=90, ha='center', va='center',
         fontsize=14, color='#6ab27f')

# ---- (F)
axF = add_ax(1160, 1318)
axF2 = axF.twinx()
axF.set_zorder(axF2.get_zorder() + 1)
axF.patch.set_visible(False)
axF.set_xlim(34, 66)
axF.set_ylim(0.70762, 0.707963)
only_spines(axF, ['left', 'bottom'])
axF.spines['left'].set_bounds(0.70765, 0.70795)
axF.set_yticks([0.7077, 0.7079])
axF.set_yticklabels(['0.7077', '0.7079'])
axF.yaxis.set_minor_locator(FixedLocator([0.70765, 0.70775, 0.7078, 0.70785, 0.70795]))
axF.tick_params(axis='y', which='both', length=TICK)
axF.set_xticks(range(35, 66, 5))
axF.xaxis.set_minor_locator(MultipleLocator(1))
axF.tick_params(axis='x', which='both', length=TICK, pad=4)
axF.set_xlabel('Age (Ma, GTS2012)', fontsize=14, labelpad=6)

axF2.set_ylim(1.19, 10.35)
only_spines(axF2, ['right'])
axF2.spines['right'].set_bounds(2, 10)
axF2.set_yticks([2, 4, 6, 8, 10])
axF2.yaxis.set_minor_locator(FixedLocator([3, 5, 7, 9]))
axF2.tick_params(axis='y', which='both', length=TICK)
axF2.plot(pco2_age, pco2_val, color='#1ba34a', lw=3.5, clip_on=False)

axF.plot(sr_fit_age, sr_fit, color='#1b98d5', lw=3.5, label='LOESS regression (span=0.5)')
axF.scatter(sr_age, sr_val, marker='D', s=100, c='#a8d5ec', edgecolors='#4b5a66', linewidths=0.7,
            zorder=5, clip_on=False)
axF.legend(loc='center right', bbox_to_anchor=(0.918, 0.91), frameon=False, fontsize=14,
           handlelength=0.9, handletextpad=0.3, borderpad=0, borderaxespad=0)
axF.text(34.55, 0.707946, '(F)', ha='left', va='center', fontsize=14)
fig.text(7 / W, 1 - 1235 / H, r'$^{87}$Sr/$^{86}$Sr', ha='left', va='center', fontsize=12.5,
         color='#1b9ad6')
fig.text(1040 / W, 1 - 1236 / H, r'$\mathit{p}$CO$_2$ estimate', rotation=270, ha='center',
         va='center', fontsize=14, color='#1ba34a')
fig.text(1018 / W, 1 - 1236 / H, r'($\times$10$^2$ ppm)', rotation=270, ha='center', va='center',
         fontsize=14, color='#1ba34a')

# ---- dashed line at the early/middle Eocene regime change
trans = mtransforms.blended_transform_factory(axF.transData, fig.transFigure)
for y_top, y_bot in [(88, 363), (458, 1300)]:
    fig.add_artist(Line2D([49.0, 49.0], [1 - y_top / H, 1 - y_bot / H], transform=trans,
                          color='#333333', lw=1.1, ls=(0, (5, 4)), zorder=30))

fig.savefig('out.png', dpi=100)
